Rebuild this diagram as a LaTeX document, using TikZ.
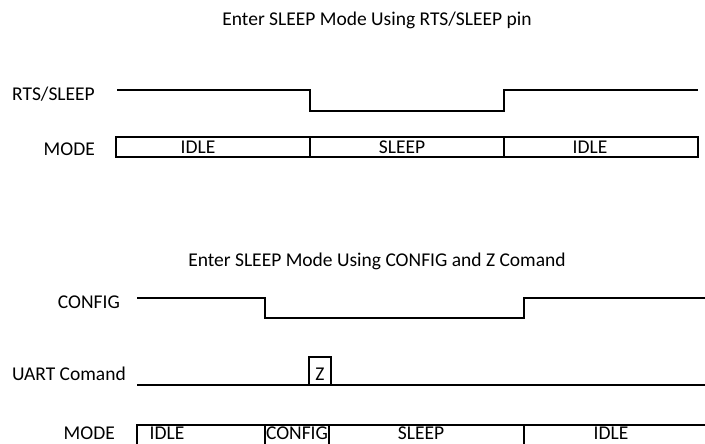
\documentclass[tikz,border=0pt]{standalone}
\usepackage{fontspec}
\setmainfont{Carlito}
\begin{document}
\begin{tikzpicture}[x=1pt,y=-1pt,
  sig/.style={line width=2.2pt, line join=miter},
  lbl/.style={font=\fontsize{19.5}{23}\selectfont, inner sep=0pt}]
\useasboundingbox (0,0) rectangle (705,444);
\clip (0,0) rectangle (705,444);
% titles
\node[lbl, anchor=base] (t1) at (377,26) {Enter SLEEP Mode Using RTS/SLEEP pin};
\node[lbl, anchor=base] (t2) at (377,266) {Enter SLEEP Mode Using CONFIG and Z Comand};
% row labels
\node[lbl, anchor=base east] (lrts) at (95,100) {RTS/SLEEP};
\node[lbl, anchor=base east] (lmode1) at (95,155) {MODE};
\node[lbl, anchor=base east] (lcfg) at (120,308) {CONFIG};
\node[lbl, anchor=base east] (luart) at (126,380) {UART Comand};
\node[lbl, anchor=base east] (lmode2) at (115,439) {MODE};
% RTS/SLEEP waveform
\coordinate (r0) at (117,90);
\coordinate (r1) at (310,90);
\coordinate (r2) at (310,111);
\coordinate (r3) at (504,111);
\coordinate (r4) at (504,90);
\coordinate (r5) at (698,90);
\draw[sig] (r0) -- (r1) -- (r2) -- (r3) -- (r4) -- (r5);
% MODE bar 1
\draw[sig] (116,137) rectangle (698,157);
\draw[sig] (310,137) -- (310,157);
\draw[sig] (504,137) -- (504,157);
\node[lbl, anchor=base] (m1a) at (198,153.5) {IDLE};
\node[lbl, anchor=base] (m1b) at (402,153.5) {SLEEP};
\node[lbl, anchor=base] (m1c) at (590,153.5) {IDLE};
% CONFIG waveform
\coordinate (c0) at (137,298);
\coordinate (c1) at (265,298);
\coordinate (c2) at (265,318);
\coordinate (c3) at (524,318);
\coordinate (c4) at (524,298);
\coordinate (c5) at (706,298);
\draw[sig] (c0) -- (c1) -- (c2) -- (c3) -- (c4) -- (c5);
% UART waveform
\coordinate (u0) at (137,385);
\coordinate (u1) at (706,385);
\draw[sig] (u0) -- (u1);
\draw[sig] (309,385) -- (309,357) -- (331,357) -- (331,385);
\node[lbl, anchor=base] (z) at (320,380) {Z};
% MODE bar 2
\draw[sig] (137,450) -- (137,425) -- (706,425);
\draw[sig] (265,425) -- (265,450);
\draw[sig] (329,425) -- (329,450);
\draw[sig] (524,425) -- (524,450);
\node[lbl, anchor=base] (m2a) at (167,439) {IDLE};
\node[lbl, anchor=base] (m2b) at (297,439) {CONFIG};
\node[lbl, anchor=base] (m2c) at (421,439) {SLEEP};
\node[lbl, anchor=base] (m2d) at (611,439) {IDLE};
\end{tikzpicture}
\end{document}
